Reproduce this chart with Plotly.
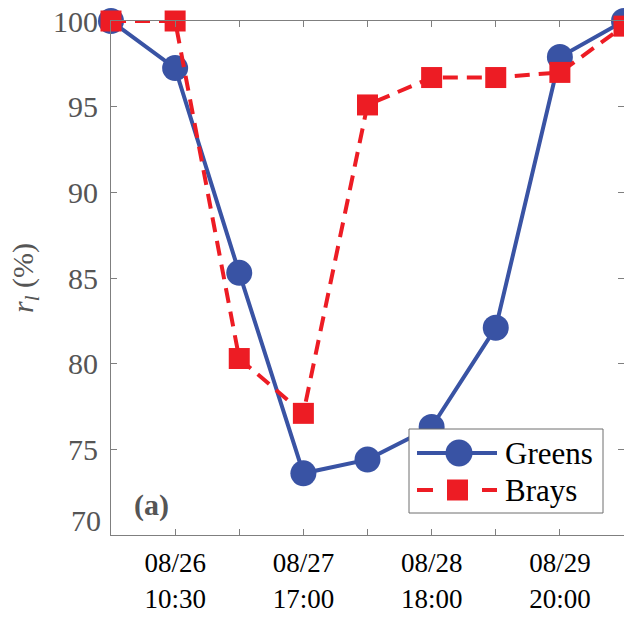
import plotly.graph_objects as go

# Sampling instants (index along the time axis) and labelled ticks
idx = [0, 1, 2, 3, 4, 5, 6, 7, 8]
label_pos = [1, 3, 5, 7]
label_text = ["08/26<br>10:30", "08/27<br>17:00", "08/28<br>18:00", "08/29<br>20:00"]

# r_l (%) for the two sites
greens = [100.0, 97.25, 85.3, 73.6, 74.4, 76.3, 82.1, 97.9, 100.0]
brays = [100.0, 100.0, 80.3, 77.1, 95.1, 96.7, 96.7, 97.0, 99.7]

y_ticks = [75, 80, 85, 90, 95, 100]

BLUE = "#3953a4"
RED = "#ed1c24"
AXIS = "#7f7f7f"
SERIF = "Liberation Serif, Times New Roman, serif"

W, H = 624, 617
ML, MR, MT, MB = 111, 0, 21, 82
PW, PH = W - ML - MR, H - MT - MB


def px(x):
    return (x - ML) / PW


def py(y):
    return (H - MB - y) / PH


fig = go.Figure()
fig.add_trace(go.Scatter(
    x=idx, y=greens, name="Greens", mode="lines+markers",
    line=dict(color=BLUE, width=4),
    marker=dict(symbol="circle", size=26, color=BLUE),
    cliponaxis=False, showlegend=False,
))
fig.add_trace(go.Scatter(
    x=idx, y=brays, name="Brays", mode="lines+markers",
    line=dict(color=RED, width=4, dash="15px,9px"),
    marker=dict(symbol="square", size=21, color=RED),
    cliponaxis=False, showlegend=False,
))

# Legend box drawn with wide line samples
shapes = [
    dict(type="rect", xref="paper", yref="paper",
         x0=px(409), x1=px(603), y0=py(513), y1=py(429),
         line=dict(color="#6e6e6e", width=1), fillcolor="white", layer="above"),
    dict(type="line", xref="paper", yref="paper",
         x0=px(417), x1=px(497), y0=py(453), y1=py(453),
         line=dict(color=BLUE, width=4), layer="above"),
    dict(type="circle", xref="paper", yref="paper",
         x0=px(459 - 13.5), x1=px(459 + 13.5), y0=py(453 + 13.5), y1=py(453 - 13.5),
         line=dict(width=0), fillcolor=BLUE, layer="above"),
    dict(type="line", xref="paper", yref="paper",
         x0=px(417), x1=px(433), y0=py(490), y1=py(490),
         line=dict(color=RED, width=4), layer="above"),
    dict(type="line", xref="paper", yref="paper",
         x0=px(482), x1=px(497), y0=py(490), y1=py(490),
         line=dict(color=RED, width=4), layer="above"),
    dict(type="rect", xref="paper", yref="paper",
         x0=px(447), x1=px(468), y0=py(500.5), y1=py(479.5),
         line=dict(width=0), fillcolor=RED, layer="above"),
]

annotations = [
    dict(text="Greens", xref="paper", yref="paper", x=px(503), y=py(453),
         xanchor="left", yanchor="middle", showarrow=False,
         font=dict(family=SERIF, size=31, color="black")),
    dict(text="Brays", xref="paper", yref="paper", x=px(503), y=py(490),
         xanchor="left", yanchor="middle", showarrow=False,
         font=dict(family=SERIF, size=31, color="black")),
    dict(text="<b>(a)</b>", xref="paper", yref="paper", x=px(151), y=py(505),
         xanchor="center", yanchor="middle", showarrow=False,
         font=dict(family=SERIF, size=30, color="#555555")),
    # bottom y label sits slightly above its tick
    dict(text="70", xref="paper", yref="y", x=0, y=70, yshift=15,
         xanchor="right", yanchor="middle", xshift=-8, showarrow=False,
         font=dict(family=SERIF, size=30, color="#555555")),
]

fig.update_layout(
    width=W, height=H,
    margin=dict(l=ML, r=MR, t=MT, b=MB, pad=0),
    plot_bgcolor="white", paper_bgcolor="white",
    showlegend=False,
    shapes=shapes, annotations=annotations,
    xaxis=dict(
        range=[0, 8], tickvals=label_pos, ticktext=label_text,
        ticks="inside", ticklen=6, tickcolor=AXIS, tickwidth=1,
        minor=dict(tick0=0, dtick=1, ticks="inside", ticklen=6,
                   tickcolor=AXIS, tickwidth=1, showgrid=False),
        showline=True, linecolor=AXIS, linewidth=1, mirror="allticks",
        showgrid=False, zeroline=False,
        tickfont=dict(family=SERIF, size=27, color="black"),
        ticklabelstandoff=4,
    ),
    yaxis=dict(
        range=[70, 100], tickvals=y_ticks,
        ticks="inside", ticklen=6, tickcolor=AXIS, tickwidth=1,
        showline=True, linecolor=AXIS, linewidth=1, mirror="allticks",
        showgrid=False, zeroline=False,
        tickfont=dict(family=SERIF, size=30, color="#555555"),
        ticklabelstandoff=6,
        title=dict(text="<i>r</i><sub><i>l</i></sub> (%)", standoff=10,
                   font=dict(family=SERIF, size=30, color="#555555")),
    ),
)

fig.write_html("out.html")
